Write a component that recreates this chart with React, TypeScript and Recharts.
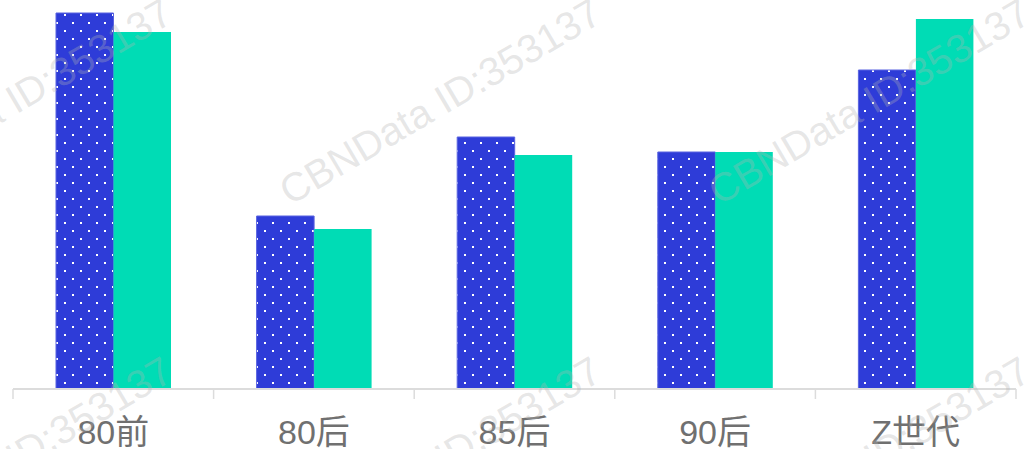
import React from 'react';
import { BarChart, Bar, XAxis, YAxis } from 'recharts';

const categories = ['80前', '80后', '85后', '90后', 'Z世代'];
const seriesDotted = [37.6, 17.3, 25.2, 23.7, 31.9];
const seriesSolid = [35.7, 16.0, 23.4, 23.7, 37.0];

const data = categories.map((name, i) => ({
  name,
  dotted: seriesDotted[i],
  solid: seriesSolid[i],
}));

const LABEL_FONT = '"Liberation Sans", Arial, "Noto Sans CJK SC", sans-serif';
const AXIS_COLOR = '#dcdcdc';
const TICK_SIZE = 10;
const TICK_MARGIN = 22;

const CustomTick = (props: any) => {
  const { x, y, payload, index, visibleTicksCount, width } = props;
  const count = visibleTicksCount || categories.length;
  const w = typeof width === 'number' && width > 0 ? width : 1003;
  const band = w / count;
  const axisY = y - TICK_SIZE - TICK_MARGIN;
  const left = x - band / 2;
  const right = x + band / 2;
  return (
    <g>
      <line x1={left} x2={left} y1={axisY} y2={axisY + TICK_SIZE} stroke={AXIS_COLOR} strokeWidth={1.5} />
      {index === count - 1 && (
        <line x1={right} x2={right} y1={axisY} y2={axisY + TICK_SIZE} stroke={AXIS_COLOR} strokeWidth={1.5} />
      )}
      <text x={x} y={y} dy={23} textAnchor="middle" fill="#707070" fontSize={34} fontFamily={LABEL_FONT}>
        {payload.value}
      </text>
    </g>
  );
};

const Watermarks = () => {
  const text = 'CBNData ID:353137';
  const xs = [290 - 429, 290, 290 + 429];
  const ys = [206, 206 + 358];
  const items: any[] = [];
  ys.forEach((yy, r) =>
    xs.forEach((xx, c) => {
      items.push(
        <text
          key={`${r}-${c}`}
          x={xx}
          y={yy}
          fontSize={40}
          fontFamily='"Liberation Sans", Arial, sans-serif'
          fill="#b4b4b4"
          fillOpacity={0.32}
          transform={`rotate(-30.5 ${xx} ${yy})`}
        >
          {text}
        </text>
      );
    })
  );
  return (
    <svg
      width={1030}
      height={449}
      style={{ position: 'absolute', left: 0, top: 0, pointerEvents: 'none' }}
    >
      {items}
    </svg>
  );
};

export default function App() {
  return (
    <div style={{ position: 'absolute', left: 0, top: 0, width: 1030, height: 449, background: '#ffffff', overflow: 'hidden' }}>
      <BarChart
        width={1030}
        height={449}
        data={data}
        margin={{ top: 9, right: 14, left: 13, bottom: 0 }}
        barGap={0}
        barSize={57.5}
      >
        <defs>
          <pattern id="dotsPattern" patternUnits="userSpaceOnUse" x={0} y={0} width={16} height={16}>
            <rect x={0} y={0} width={16} height={16} fill="#2e3cd8" />
            <rect x={0} y={14} width={2} height={2} fill="#ffffff" />
            <rect x={8} y={6} width={2} height={2} fill="#ffffff" />
          </pattern>
        </defs>
        <XAxis
          dataKey="name"
          height={60}
          axisLine={{ stroke: AXIS_COLOR, strokeWidth: 2 }}
          tickLine={false}
          tickSize={TICK_SIZE}
          tickMargin={TICK_MARGIN}
          tick={<CustomTick />}
          interval={0}
        />
        <YAxis hide domain={[0, 38]} allowDataOverflow />
        <Bar dataKey="dotted" fill="url(#dotsPattern)" stroke="#5963e0" strokeWidth={1} isAnimationActive={false} />
        <Bar dataKey="solid" fill="#00dcb5" isAnimationActive={false} />
      </BarChart>
      <Watermarks />
    </div>
  );
}
